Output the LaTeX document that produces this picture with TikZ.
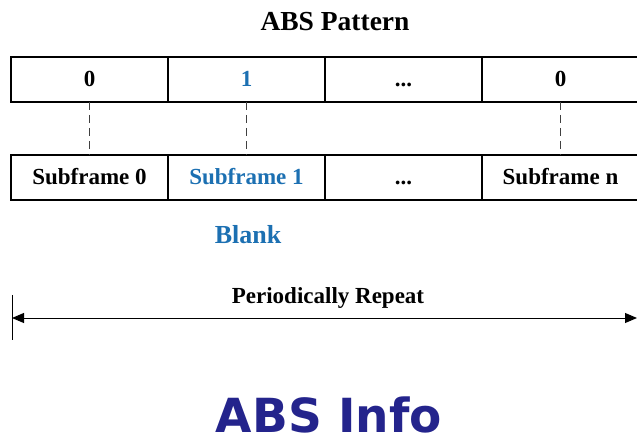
\documentclass[tikz,border=0pt]{standalone}
\usepackage{fontspec}
\setmainfont{Liberation Serif}
\newfontfamily\infofont{DejaVu Sans}
\usetikzlibrary{positioning}
\usetikzlibrary{arrows.meta}
\definecolor{blankblue}{RGB}{28,112,178}
\definecolor{infonavy}{RGB}{36,36,140}

\begin{document}
\begin{tikzpicture}[
        x = 1pt, y = -1pt,
        cell/.style = {
            draw,
            line width = 1.6pt,
            minimum width = 157pt,
            minimum height = 45pt,
            inner sep = 0pt,
            outer sep = 0pt,
            text height = 15pt,
            text depth = 0pt,
            font = \fontsize{23}{25}\selectfont\bfseries
        },
        link/.style = {
            dashed,
            dash pattern = on 8pt off 5pt,
            line width = 0.8pt,
            black!75
        },
        node distance = {0pt}
    ]
    \useasboundingbox (0,0) rectangle (637,438);

    \node[font=\fontsize{27.5}{30}\selectfont\bfseries] (title) at (335,22) {ABS Pattern};

    % pattern row
    \node[cell] (p0) at (89.5,79.5) {0};
    \node[cell, right=of p0, text=blankblue] (p1) {1};
    \node[cell, right=of p1] (p2) {...};
    \node[cell, right=of p2] (p3) {0};

    % subframe row
    \node[cell] (s0) at (89.5,177.5) {Subframe 0};
    \node[cell, right=of s0, text=blankblue] (s1) {Subframe 1};
    \node[cell, right=of s1] (s2) {...};
    \node[cell, right=of s2] (s3) {Subframe n};

    \draw[link] (p0) -- (s0);
    \draw[link] (p1) -- (s1);
    \draw[link] (p3) -- (s3);

    \node[font=\fontsize{26}{28}\selectfont\bfseries, text=blankblue] (blank) at (248,235) {Blank};

    % period
    \coordinate (tt) at (12,295);
    \coordinate (tb) at (12,340);
    \coordinate (pl) at (12,318);
    \coordinate (pr) at (637,318);
    \draw[line width = 0.8pt] (tt) -- (tb);
    \draw[line width = 1pt, {Triangle[length=12pt, width=10pt]}-{Triangle[length=12pt, width=10pt]}] (pl) -- (pr);
    \node[font=\fontsize{23}{25}\selectfont\bfseries] (period) at (328,298) {Periodically Repeat};

    \node[font=\infofont\fontsize{47}{50}\selectfont\bfseries, text=infonavy, text depth=0pt, inner sep=1pt, anchor=base] (info) at (329,432) {ABS Info};
\end{tikzpicture}
\end{document}
